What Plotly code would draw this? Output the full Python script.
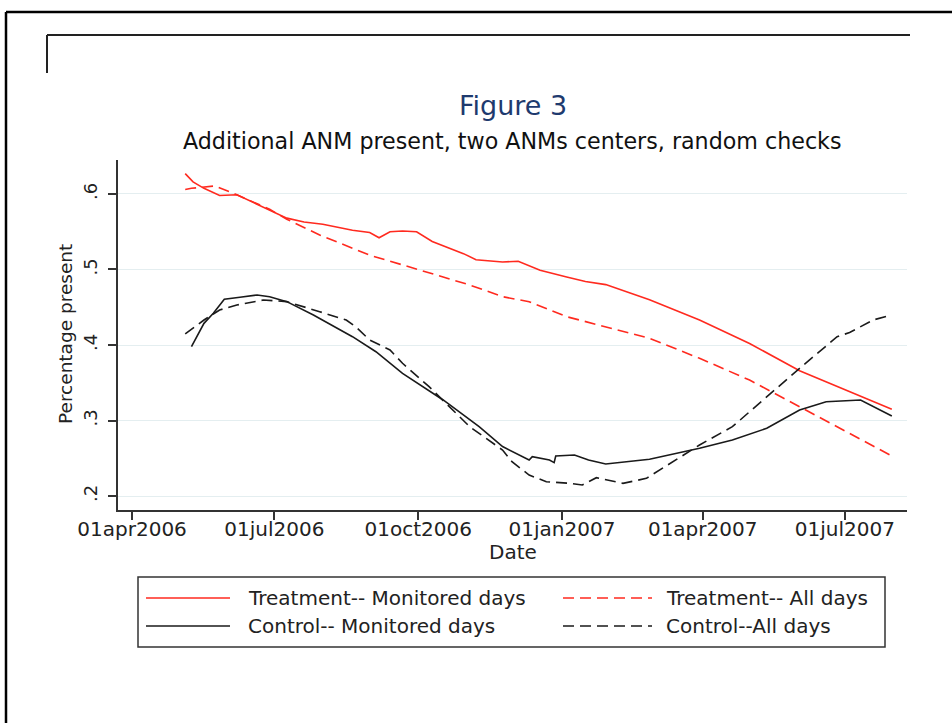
import plotly.graph_objects as go

# ---------------- data ----------------
tm_dates = ["2006-05-05", "2006-05-10", "2006-05-17", "2006-05-27", "2006-06-07", "2006-06-18",
            "2006-06-28", "2006-07-09", "2006-07-20", "2006-08-01", "2006-08-20", "2006-08-31",
            "2006-09-06", "2006-09-13", "2006-09-21", "2006-09-30", "2006-10-10", "2006-10-30",
            "2006-11-07", "2006-11-24", "2006-12-04", "2006-12-18", "2007-01-04", "2007-01-16",
            "2007-01-29", "2007-02-26", "2007-03-30", "2007-05-01", "2007-06-02", "2007-06-24",
            "2007-07-15", "2007-07-31"]
tm_vals = [0.627, 0.616, 0.6075, 0.598, 0.599, 0.588,
           0.579, 0.568, 0.563, 0.560, 0.552, 0.549,
           0.542, 0.550, 0.551, 0.550, 0.537, 0.521,
           0.513, 0.510, 0.511, 0.499, 0.490, 0.484,
           0.480, 0.460, 0.433, 0.402, 0.366, 0.347,
           0.329, 0.315]

ta_dates = ["2006-05-05", "2006-05-09", "2006-05-24", "2006-06-07", "2006-06-28", "2006-07-09",
            "2006-07-30", "2006-08-31", "2006-10-02", "2006-11-03", "2006-11-24", "2006-12-11",
            "2007-01-04", "2007-01-25", "2007-02-26", "2007-03-30", "2007-05-01", "2007-06-02",
            "2007-07-04", "2007-07-31"]
ta_vals = [0.606, 0.6075, 0.6106, 0.599, 0.5797, 0.5665,
           0.5457, 0.519, 0.4993, 0.4795, 0.464, 0.4574,
           0.4375, 0.4265, 0.4089, 0.3824, 0.3536, 0.3183,
           0.283, 0.253]

cm_dates = ["2006-05-09", "2006-05-17", "2006-05-23", "2006-05-30", "2006-06-09", "2006-06-20",
            "2006-06-28", "2006-07-09", "2006-07-26", "2006-08-20", "2006-09-04", "2006-09-21",
            "2006-10-17", "2006-11-09", "2006-11-24", "2006-12-05", "2006-12-11", "2006-12-13",
            "2006-12-18", "2006-12-24", "2006-12-27", "2006-12-28", "2007-01-09", "2007-01-18",
            "2007-01-29", "2007-02-26", "2007-03-30", "2007-04-20", "2007-05-12", "2007-06-02",
            "2007-06-19", "2007-07-11", "2007-07-31"]
cm_vals = [0.3978, 0.4287, 0.442, 0.4605, 0.4632, 0.4662,
           0.464, 0.4574, 0.4397, 0.411, 0.3911, 0.3625,
           0.3272, 0.2918, 0.2655, 0.2543, 0.2477, 0.2521,
           0.2499, 0.2477, 0.2442, 0.253, 0.2543, 0.2477,
           0.2424, 0.2486, 0.2632, 0.2742, 0.2897, 0.3139,
           0.3249, 0.3272, 0.306]

ca_dates = ["2006-05-05", "2006-05-17", "2006-05-27", "2006-06-07", "2006-06-24", "2006-07-09",
            "2006-07-30", "2006-08-16", "2006-08-22", "2006-08-31", "2006-09-13", "2006-09-21",
            "2006-10-08", "2006-11-03", "2006-11-24", "2006-11-30", "2006-12-11", "2006-12-22",
            "2007-01-06", "2007-01-14", "2007-01-23", "2007-02-09", "2007-02-24", "2007-03-13",
            "2007-03-30", "2007-04-20", "2007-05-12", "2007-06-02", "2007-06-26", "2007-07-04",
            "2007-07-19", "2007-07-31"]
ca_vals = [0.4146, 0.4331, 0.4464, 0.453, 0.4596, 0.4574,
           0.4441, 0.4331, 0.4243, 0.4066, 0.3934, 0.3758,
           0.3448, 0.2918, 0.2609, 0.2455, 0.2278, 0.2190,
           0.2168, 0.2146, 0.2243, 0.2168, 0.2234, 0.2455,
           0.2676, 0.2918, 0.3315, 0.3691, 0.411, 0.4165,
           0.4331, 0.4397]

series_names = ["Treatment-- Monitored days", "Treatment-- All days",
                "Control-- Monitored days", "Control--All days"]

x_tick_dates = ["2006-04-01", "2006-07-01", "2006-10-01", "2007-01-01", "2007-04-01", "2007-07-01"]
x_tick_labels = ["01apr2006", "01jul2006", "01oct2006", "01jan2007", "01apr2007", "01jul2007"]
y_tick_vals = [0.2, 0.3, 0.4, 0.5, 0.6]
y_tick_labels = [".2", ".3", ".4", ".5", ".6"]

title_text = "Figure 3"
subtitle_text = "Additional ANM present, two ANMs centers, random checks"
x_title = "Date"
y_title = "Percentage present"

# ---------------- styling / layout ----------------
W, H = 952, 723
L, R, T, B = 118, 907, 160, 510
FONT = "DejaVu Sans"
RED = "#ff2a1f"
BLK = "#1a1a1a"
DASH = "11px,6px"


def px(x):
    return (x - L) / (R - L)


def py(y):
    return (B - y) / (B - T)


styles = [dict(color=RED, dash="solid"), dict(color=RED, dash=DASH),
          dict(color=BLK, dash="solid"), dict(color=BLK, dash=DASH)]
data = [(tm_dates, tm_vals), (ta_dates, ta_vals), (cm_dates, cm_vals), (ca_dates, ca_vals)]

fig = go.Figure()
for (xs, ys), name, st in zip(data, series_names, styles):
    fig.add_trace(go.Scatter(x=xs, y=ys, mode="lines", name=name, showlegend=False,
                             line=dict(color=st["color"], dash=st["dash"], width=1.6)))

fig.update_layout(
    width=W, height=H,
    margin=dict(l=L, r=W - R, t=T, b=H - B, pad=0),
    paper_bgcolor="white", plot_bgcolor="white",
    font=dict(family=FONT, color="#222222", size=20),
    showlegend=False,
)
fig.update_xaxes(
    range=["2006-03-23", "2007-08-09 17:00"],
    tickmode="array", tickvals=x_tick_dates, ticktext=x_tick_labels,
    ticks="outside", ticklen=8, tickwidth=1.5, tickcolor="#333333",
    ticklabelstandoff=-8,
    showgrid=False, zeroline=False,
    showline=True, linecolor="#333333", linewidth=2,
    tickfont=dict(family=FONT, size=20, color="#222222"),
)
fig.update_yaxes(
    range=[0.1815, 0.645],
    tickmode="array", tickvals=y_tick_vals, ticktext=y_tick_labels,
    tickangle=-90,
    ticks="outside", ticklen=8, tickwidth=1.5, tickcolor="#333333",
    ticklabelstandoff=4,
    showgrid=True, gridcolor="#e4eef0", gridwidth=1, zeroline=False,
    showline=True, linecolor="#333333", linewidth=2,
    tickfont=dict(family=FONT, size=18, color="#222222"),
)

annotations = [
    dict(text=title_text, x=0.5, y=py(106), xref="paper", yref="paper",
         xanchor="center", yanchor="middle", showarrow=False,
         font=dict(family=FONT, size=27, color="#1e3a6e")),
    dict(text=subtitle_text, x=0.5, y=py(141), xref="paper", yref="paper",
         xanchor="center", yanchor="middle", showarrow=False,
         font=dict(family=FONT, size=22.2, color="#111111")),
    dict(text=x_title, x=0.5, y=py(552), xref="paper", yref="paper",
         xanchor="center", yanchor="middle", showarrow=False,
         font=dict(family=FONT, size=20, color="#222222")),
    dict(text=y_title, x=px(65), y=py(334), xref="paper", yref="paper",
         xanchor="center", yanchor="middle", showarrow=False, textangle=-90,
         font=dict(family=FONT, size=18.5, color="#222222")),
]

shapes = [
    # outer page border
    dict(type="line", xref="paper", yref="paper", x0=px(6), x1=px(960), y0=py(12), y1=py(12),
         line=dict(color="black", width=2.5)),
    dict(type="line", xref="paper", yref="paper", x0=px(6), x1=px(6), y0=py(12), y1=py(730),
         line=dict(color="black", width=2.5)),
    # inner bracket
    dict(type="line", xref="paper", yref="paper", x0=px(47), x1=px(910), y0=py(35), y1=py(35),
         line=dict(color="#222222", width=2)),
    dict(type="line", xref="paper", yref="paper", x0=px(47), x1=px(47), y0=py(35), y1=py(73),
         line=dict(color="#222222", width=2)),
    # legend box
    dict(type="rect", xref="paper", yref="paper", x0=px(138), x1=px(885), y0=py(577), y1=py(647),
         line=dict(color="#333333", width=1.5), fillcolor="rgba(0,0,0,0)"),
]

# legend entries (2 x 2 layout as in the reference)
leg_rows = [598, 626]
leg_cols = [(146, 230, 246), (563, 652, 664)]
for i, (name, st) in enumerate(zip(series_names, styles)):
    r, c = divmod(i, 2)
    x0, x1, xt = leg_cols[c]
    yy = leg_rows[r]
    shapes.append(dict(type="line", xref="paper", yref="paper", x0=px(x0), x1=px(x1),
                       y0=py(yy), y1=py(yy),
                       line=dict(color=st["color"], width=1.6, dash=st["dash"])))
    annotations.append(dict(text=name, x=px(xt), y=py(yy), xref="paper", yref="paper",
                            xanchor="left", yanchor="middle", showarrow=False,
                            font=dict(family=FONT, size=20, color="#222222")))

fig.update_layout(annotations=annotations, shapes=shapes)
fig.write_html("out.html")
